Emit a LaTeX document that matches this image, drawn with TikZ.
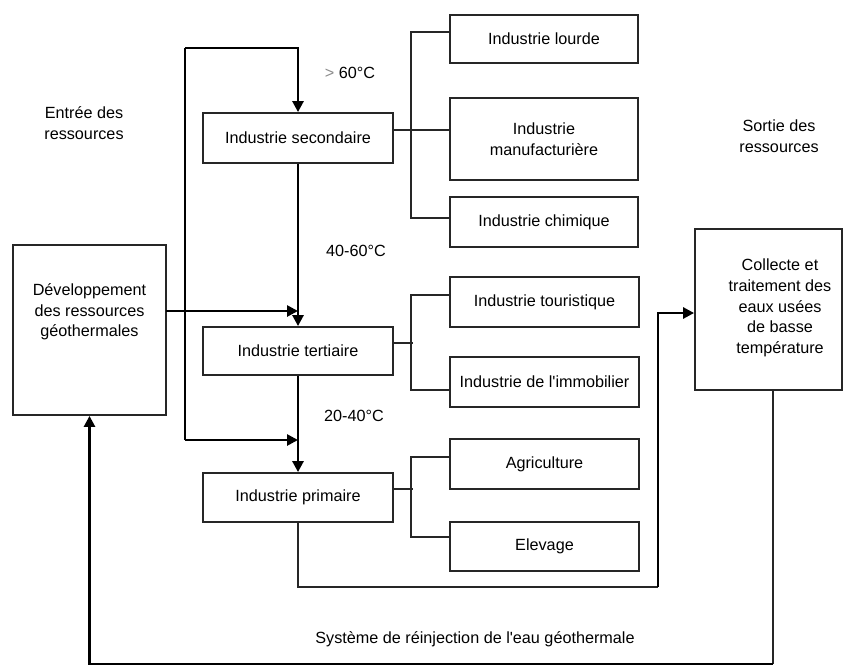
\documentclass[tikz,border=0pt]{standalone}
\usepackage{fontspec}
\setmainfont{Liberation Sans}[Ligatures=TeXOff]
\usetikzlibrary{arrows.meta}
\begin{document}
\begin{tikzpicture}[x=1pt,y=-1pt,
  font=\fontsize{16.2}{20.6}\selectfont,
  box/.style={draw=black!85,line width=1.8pt,rectangle,inner sep=0pt,align=center},
  lbl/.style={inner sep=0pt,align=center},
  thin/.style={draw=black!85,line width=1.5pt},
  heavy/.style={draw=black,line width=2.6pt},
  loop/.style={draw=black!85,line width=2pt},
  tip/.style={-{Triangle[length=11pt,width=11pt]}}]
\useasboundingbox (0,0) rectangle (856,664);
\fill[white] (0,0) rectangle (856,664);
% boxes
\node[box,minimum width=153pt,minimum height=170pt] (dev) at (89.5,330) {};
\node[lbl] (devt) at (89.5,312) {Développement\\des ressources\\géothermales};
\node[box,minimum width=190pt,minimum height=50pt] (sec) at (298,138) {Industrie secondaire};
\node[box,minimum width=190pt,minimum height=48pt] (ter) at (298,351) {Industrie tertiaire};
\node[box,minimum width=190pt,minimum height=49pt] (pri) at (298,497.5) {Industrie primaire};
\node[box,minimum width=188pt,minimum height=48pt] (lou) at (544,39) {Industrie lourde};
\node[box,minimum width=188pt,minimum height=82pt] (man) at (544,139) {Industrie\\manufacturière};
\node[box,minimum width=188pt,minimum height=50pt] (chi) at (544,222) {Industrie chimique};
\node[box,minimum width=189pt,minimum height=50pt] (tou) at (544.5,302) {Industrie touristique};
\node[box,minimum width=189pt,minimum height=50pt] (imm) at (544.5,382) {Industrie de l'immobilier};
\node[box,minimum width=189pt,minimum height=50pt] (agr) at (544.5,464) {Agriculture};
\node[box,minimum width=189pt,minimum height=49pt] (ele) at (544.5,546.5) {Elevage};
\node[box,minimum width=147pt,minimum height=161pt] (col) at (768.5,309.5) {};
\node[lbl] (colt) at (780,308) {Collecte et\\traitement des\\eaux usées\\de basse\\température};
% labels
\node[lbl] (entree) at (84,123) {Entrée des\\ressources};
\node[lbl] (sortie) at (779,136) {Sortie des\\ressources};
\node[lbl] (t60) at (350,73) {\textcolor{black!45}{>} 60°C};
\node[lbl] (t4060) at (356,251) {40-60°C};
\node[lbl] (t2040) at (354,416) {20-40°C};
\node[lbl] (sys) at (475,639) {Système de réinjection de l'eau géothermale};
% main flow
\coordinate (topL) at (185,48);
\coordinate (botL) at (185,440);
\coordinate (devout) at (166,311);
\draw[heavy] (botL) -- (topL);
\draw[heavy,tip] (topL) -| (sec.north);
\draw[heavy,tip] (sec.south) -- (ter.north);
\draw[heavy,tip] (devout) -- (ter.north |- devout);
\draw[heavy,tip] (ter.south) -- (pri.north);
\draw[heavy,tip] (botL) -- (ter.south |- botL);
% branches
\draw[thin] ([yshift=8pt]sec.east) -- ([yshift=9pt]man.west);
\draw[thin] ([yshift=7pt]lou.west) -- ++(-38,0) |- ([yshift=4pt]chi.west);
\draw[thin] ([yshift=8pt]ter.east) -- ++(19,0);
\draw[thin] ([yshift=7pt]tou.west) -- ++(-38,0) |- ([yshift=-8pt]imm.west);
\draw[thin] ([yshift=8.5pt]pri.east) -- ++(19,0);
\draw[thin] ([yshift=7pt]agr.west) -- ++(-38,0) |- ([yshift=9.5pt]ele.west);
% outflow
\coordinate (c1) at (658,587);
\draw[loop] (pri.south) |- (c1);
\draw[heavy,tip] (c1) |- ([yshift=-3.5pt]col.west);
% reinjection
\coordinate (r1) at (773,664);
\draw[loop] ([xshift=4.5pt]col.south) -- (r1);
\draw[heavy,tip] (r1) -| (dev.south);
\end{tikzpicture}
\end{document}
